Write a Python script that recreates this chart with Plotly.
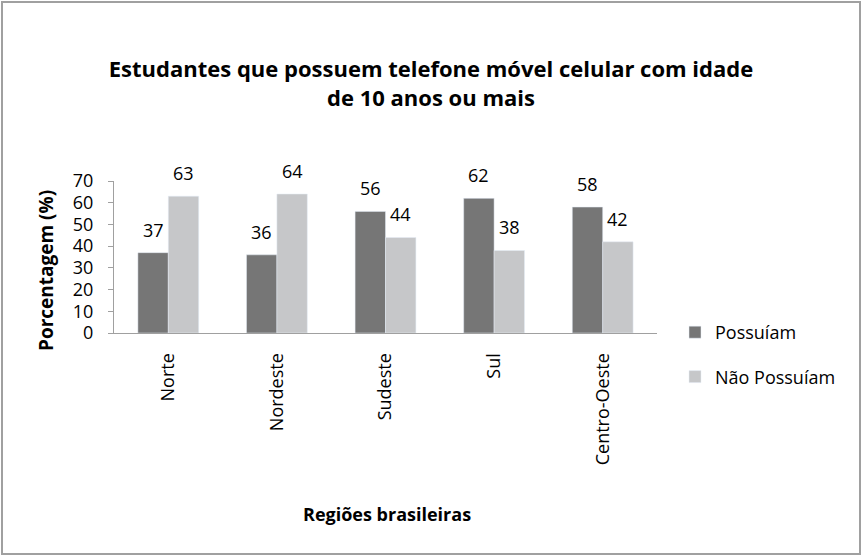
import plotly.graph_objects as go

regioes = ["Norte", "Nordeste", "Sudeste", "Sul", "Centro-Oeste"]
possuiam = [37, 36, 56, 62, 58]
nao_possuiam = [63, 64, 44, 38, 42]

W, H = 864, 556
ML, MR, MT, MB = 114, 207, 181, 223
PW = W - ML - MR
PH = H - MT - MB

FONT = "Open Sans"
DARK = "#767676"
LIGHT = "#c6c7c9"


def px_x(p):
    return (p - ML) / PW


def px_y(p):
    return (H - MB - p) / PH


fig = go.Figure()
fig.add_trace(go.Bar(x=regioes, y=possuiam, name="Possuíam",
                     marker_color=DARK, legendgroup="a"))
fig.add_trace(go.Bar(x=regioes, y=nao_possuiam, name="Não Possuíam",
                     marker_color=LIGHT, legendgroup="b"))

# value labels sit well above the bars, as in the original
bar_w = PW / len(regioes) * (1 - 0.44) / 2
for vals, sh in ((possuiam, -bar_w / 2), (nao_possuiam, bar_w / 2)):
    for r, v in zip(regioes, vals):
        fig.add_annotation(x=r, y=v, text=str(v), showarrow=False,
                           xshift=sh, yshift=23, yanchor="middle",
                           font=dict(size=18, color="#000"))

# axis titles
fig.add_annotation(text="<b>Porcentagem (%)</b>", textangle=-90,
                   xref="paper", yref="paper", x=px_x(46), y=px_y(270),
                   xanchor="center", yanchor="middle",
                   showarrow=False, font=dict(size=19))
fig.add_annotation(text="<b>Regiões brasileiras</b>",
                   xref="paper", yref="paper", x=px_x(387), y=px_y(514),
                   xanchor="center", yanchor="middle",
                   showarrow=False, font=dict(size=18))

fig.add_shape(type="rect", xref="paper", yref="paper",
              x0=px_x(2), x1=px_x(860), y0=px_y(554), y1=px_y(2),
              line=dict(color="#a0a0a0", width=2), layer="below")

fig.update_layout(
    width=W, height=H,
    margin=dict(l=ML, r=MR, t=MT, b=MB),
    paper_bgcolor="white", plot_bgcolor="white",
    font=dict(family=FONT, size=18, color="#000"),
    title=dict(text="<b>Estudantes que possuem telefone móvel celular com idade<br>de 10 anos ou mais</b>",
               x=px_x(431), xanchor="center", xref="paper",
               y=1 - 77 / H, yanchor="middle",
               font=dict(size=22)),
    barmode="group", bargap=0.44, bargroupgap=0,
    showlegend=True,
    legend=dict(x=px_x(675), y=px_y(314), xanchor="left", yanchor="top",
                traceorder="grouped", tracegroupgap=18,
                font=dict(size=18), bgcolor="rgba(0,0,0,0)"),
    xaxis=dict(showline=True, linecolor="#a0a0a0", linewidth=1,
               ticks="", tickangle=-90, ticklabelstandoff=12,
               tickfont=dict(size=18)),
    yaxis=dict(range=[0, 70], dtick=10, showgrid=False, zeroline=False,
               showline=True, linecolor="#a0a0a0", linewidth=1,
               ticks="outside", ticklen=5, tickcolor="#a0a0a0",
               ticklabelstandoff=11, tickfont=dict(size=18)),
)

fig.write_html("out.html", config={"displayModeBar": False},
               post_script="document.body.style.margin='0';")
